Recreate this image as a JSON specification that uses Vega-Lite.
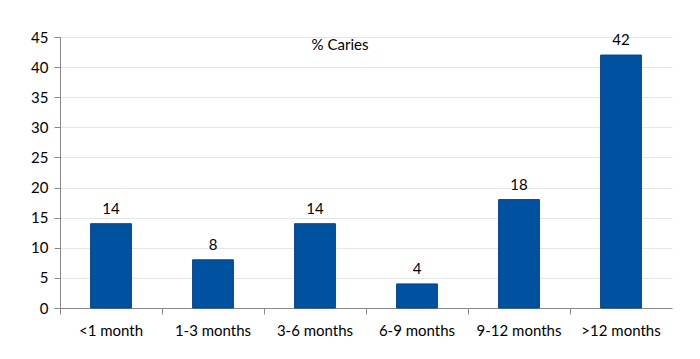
{
  "$schema": "https://vega.github.io/schema/vega-lite/v6.json",
  "width": 612,
  "height": 271,
  "autosize": {"type": "none"},
  "padding": {"left": 60, "top": 37, "right": 28, "bottom": 51},
  "background": "white",
  "title": {"text": "% Caries", "anchor": "middle", "dx": -26, "offset": -23, "fontSize": 15, "fontWeight": "normal", "font": "Lato", "color": "#000000"},
  "data": {"values": [
    {"age": "<1 month", "caries": 14},
    {"age": "1-3 months", "caries": 8},
    {"age": "3-6 months", "caries": 14},
    {"age": "6-9 months", "caries": 4},
    {"age": "9-12 months", "caries": 18},
    {"age": ">12 months", "caries": 42}
  ]},
  "encoding": {
    "x": {"field": "age", "type": "nominal", "sort": null, "title": null,
      "scale": {"paddingInner": 0, "paddingOuter": 0},
      "axis": {"labelAngle": 0, "labelFontSize": 15, "labelFont": "Lato", "labelColor": "#000000", "domainColor": "#898989", "tickColor": "#898989", "tickSize": 6, "bandPosition": 0, "labelPadding": 9}},
    "y": {"field": "caries", "type": "quantitative", "title": null,
      "scale": {"domain": [0, 45], "nice": false},
      "axis": {"values": [0,5,10,15,20,25,30,35,40,45], "labelFontSize": 15, "labelFont": "Lato", "labelColor": "#000000", "domainColor": "#898989", "tickColor": "#898989", "tickSize": 6, "gridColor": "#E6E6E6", "labelPadding": 6}}
  },
  "layer": [
    {"mark": {"type": "bar", "width": {"band": 0.4}, "color": "#0051A0", "stroke": "#00458C", "strokeWidth": 1}},
    {"mark": {"type": "text", "dy": -15, "fontSize": 15, "font": "Lato", "color": "#000000"},
     "encoding": {"text": {"field": "caries", "type": "quantitative"}}}
  ],
  "config": {"view": {"stroke": null}}
}
